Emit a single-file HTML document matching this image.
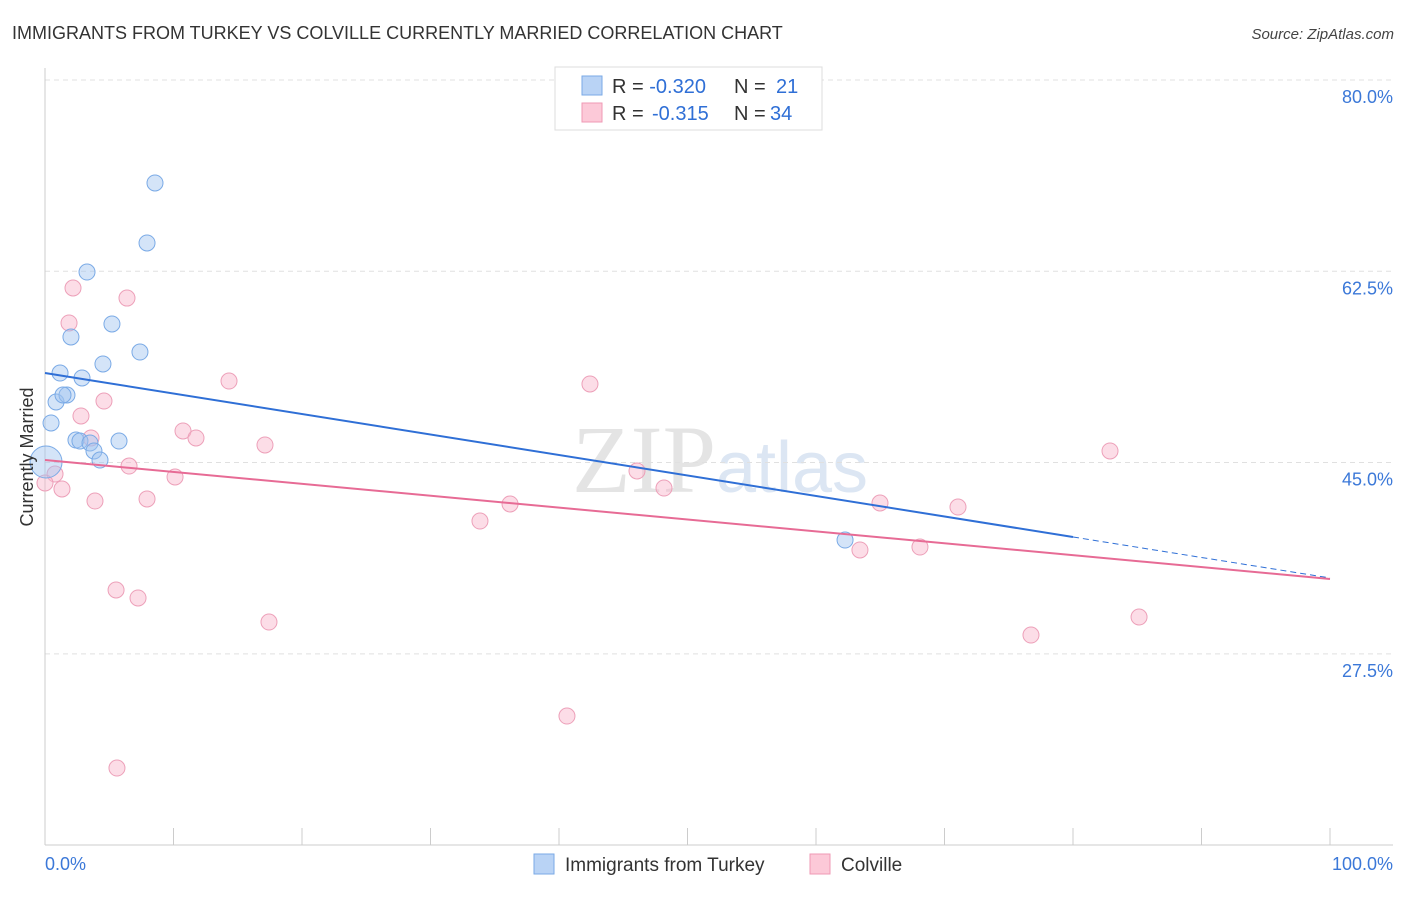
<!DOCTYPE html>
<html><head><meta charset="utf-8"><style>
body{margin:0;background:#fff;font-family:"Liberation Sans",sans-serif;}
</style></head><body>
<svg id="chart" width="1406" height="892" xmlns="http://www.w3.org/2000/svg" font-family="Liberation Sans, sans-serif">
<text x="12" y="39" font-size="18" fill="#333">IMMIGRANTS FROM TURKEY VS COLVILLE CURRENTLY MARRIED CORRELATION CHART</text>
<text x="1394" y="39" font-size="15" fill="#444" text-anchor="end" font-style="italic">Source: ZipAtlas.com</text>
<text x="720" y="492" font-size="96" fill="#e4e4e4" text-anchor="middle" font-family="Liberation Serif, serif">ZIP<tspan fill="#dce6f3" font-family="Liberation Sans, sans-serif" font-size="72">atlas</tspan></text>
<g id="grid"></g>
<g id="axes"></g>
<g id="marks"></g>
<text transform="translate(33,457) rotate(-90)" font-size="18" fill="#333" text-anchor="middle">Currently Married</text>
<g>
<rect x="555" y="67" width="267" height="63" fill="#fff" stroke="#ddd"/>
<rect x="582" y="76" width="20" height="19" fill="#b9d3f5" stroke="#7aaae6"/>
<rect x="582" y="103" width="20" height="19" fill="#fcc9d8" stroke="#ef99b5"/>
<text x="612" y="93" font-size="20" fill="#333">R = <tspan fill="#2f6fd6">-0.320</tspan><tspan x="734">N = </tspan><tspan x="776" fill="#2f6fd6">21</tspan></text>
<text x="612" y="120" font-size="20" fill="#333">R = <tspan x="652" fill="#2f6fd6">-0.315</tspan><tspan x="734">N = </tspan><tspan x="770" fill="#2f6fd6">34</tspan></text>
</g>
<g>
<rect x="534" y="854" width="20" height="20" fill="#b9d3f5" stroke="#7aaae6"/>
<text x="565" y="871" font-size="19" fill="#333">Immigrants from Turkey</text>
<rect x="810" y="854" width="20" height="20" fill="#fcc9d8" stroke="#ef99b5"/>
<text x="841" y="871" font-size="19" fill="#333">Colville</text>
</g>
</svg>
<script>
const yTicks=[80,62.5,45,27.5];
const yTickLabels=["80.0%","62.5%","45.0%","27.5%"];
const xTicks=[0,10,20,30,40,50,60,70,80,90,100];
const blueX=[8.56,7.94,3.27,5.21,2.02,7.39,4.51,1.17,2.88,0.86,1.71,1.40,0.47,2.41,2.72,3.50,3.81,4.28,5.76,0.08,62.26];
const blueY=[70.58,65.09,62.43,57.68,56.49,55.11,54.02,53.19,52.74,50.54,51.18,51.18,48.62,47.06,46.97,46.79,46.06,45.23,46.97,45.05,37.91];
const pinkX=[2.18,6.38,1.87,14.32,42.41,2.80,4.59,10.74,11.75,17.12,3.58,6.54,0.78,1.32,10.12,3.89,7.94,46.07,48.17,36.19,33.85,64.98,71.05,63.42,68.09,82.88,5.53,7.24,17.43,76.73,85.14,40.62,5.60,0];
const pinkY=[60.97,60.05,57.77,52.46,52.19,49.26,50.63,47.89,47.25,46.61,47.25,44.68,43.95,42.58,43.68,41.48,41.67,44.23,42.67,41.21,39.65,41.30,40.93,37.0,37.27,46.06,33.34,32.61,30.41,29.22,30.87,21.81,17.05,43.13];
const blueTrend=[53.19,34.44]; // value at x=0 and x=100
const pinkTrend=[45.23,34.35];
const blueSolidEnd=80;

const NS="http://www.w3.org/2000/svg";
const X=v=>45+v*12.85;
const Y=v=>80+(80-v)*10.93;
function mk(tag,attrs,parent){const e=document.createElementNS(NS,tag);for(const k in attrs)e.setAttribute(k,attrs[k]);parent.appendChild(e);return e;}
const grid=document.getElementById('grid'),axes=document.getElementById('axes'),marks=document.getElementById('marks');
yTicks.forEach((t,i)=>{
 const l=mk('line',{x1:45,x2:1393,y1:Y(t),y2:Y(t),stroke:'#e0e0e0','stroke-dasharray':'5,4'},grid);
 
 
 const tx=mk('text',{x:1393,y:Y(t)+23,'font-size':18,fill:'#3b78d8','text-anchor':'end'},axes);
 tx.textContent=yTickLabels[i];
 
 
});
const ya=mk('line',{x1:45,x2:45,y1:68,y2:845,stroke:'#ccc'},axes);


const xa=mk('line',{x1:45,x2:1393,y1:845,y2:845,stroke:'#ccc'},axes);


xTicks.forEach(t=>{
 const l=mk('line',{x1:X(t),x2:X(t),y1:828,y2:845,stroke:'#ccc'},axes);
 
 
});
const xl0=mk('text',{x:45,y:870,'font-size':18,fill:'#3b78d8'},axes);xl0.textContent='0.0%';


const xl1=mk('text',{x:1393,y:870,'font-size':18,fill:'#3b78d8','text-anchor':'end'},axes);xl1.textContent='100.0%';



pinkX.forEach((x,i)=>{
 const c=mk('circle',{cx:X(x),cy:Y(pinkY[i]),r:8,fill:'rgba(248,180,202,0.45)',stroke:'#eda0b9','stroke-width':1},marks);
 
 
});
blueX.forEach((x,i)=>{
 const r=(i===19)?16:8;
 const c=mk('circle',{cx:X(x),cy:Y(blueY[i]),r:r,fill:'rgba(160,196,240,0.45)',stroke:'#7aaae6','stroke-width':1},marks);
 
 
});
const bv=x=>blueTrend[0]+(blueTrend[1]-blueTrend[0])*x/100;
const b1=mk('line',{x1:X(0),y1:Y(bv(0)),x2:X(blueSolidEnd),y2:Y(bv(blueSolidEnd)),stroke:'#2f6fd6','stroke-width':2},marks);


const b2=mk('line',{x1:X(blueSolidEnd),y1:Y(bv(blueSolidEnd)),x2:X(100),y2:Y(bv(100)),stroke:'#2f6fd6','stroke-width':1,'stroke-dasharray':'6,4'},marks);


const p1=mk('line',{x1:X(0),y1:Y(pinkTrend[0]),x2:X(100),y2:Y(pinkTrend[1]),stroke:'#e76b95','stroke-width':2},marks);


</script>
</body></html>
